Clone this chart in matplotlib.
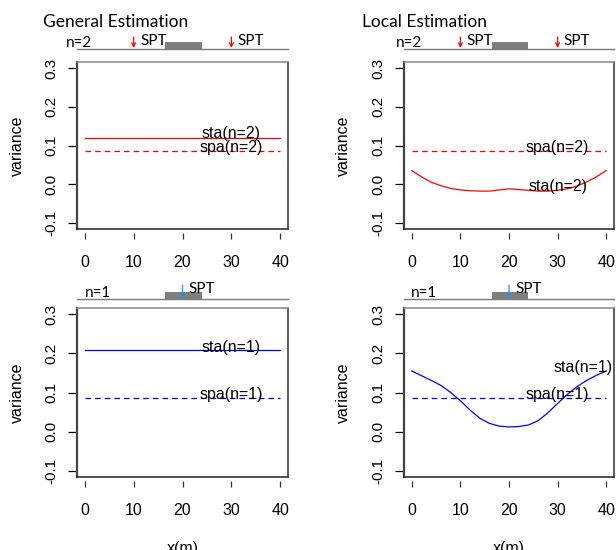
import matplotlib
matplotlib.use("Agg")
import matplotlib.pyplot as plt
from matplotlib.patches import Rectangle
from matplotlib.lines import Line2D
from matplotlib.transforms import blended_transform_factory

# ---------------- data ----------------
xticks = [0, 10, 20, 30, 40]
yticks = [-0.1, 0.0, 0.1, 0.2, 0.3]
ytick_labels = ["-0.1", "0.0", "0.1", "0.2", "0.3"]

x_flat = [0, 40]
sta_n2_general = [0.12, 0.12]
spa_n2_general = [0.085, 0.085]
sta_n1_general = [0.209, 0.209]
spa_n1_general = [0.085, 0.085]

x_local = [0, 2, 4, 6, 8, 10, 12, 14, 16, 18, 20, 22, 24, 26, 28, 30, 32, 34, 36, 38, 40]
sta_n2_local = [0.035, 0.019, 0.005, -0.004, -0.011, -0.015, -0.017, -0.018, -0.018, -0.015,
                -0.012, -0.014, -0.016, -0.018, -0.018, -0.016, -0.012, -0.005, 0.006, 0.019, 0.035]
spa_n2_local = [0.085] * len(x_local)
sta_n1_local = [0.155, 0.143, 0.131, 0.118, 0.100, 0.079, 0.055, 0.034, 0.021, 0.014,
                0.012, 0.013, 0.017, 0.028, 0.048, 0.072, 0.095, 0.115, 0.131, 0.144, 0.155]
spa_n1_local = [0.085] * len(x_local)

spt_n2 = [10, 30]
spt_n1 = [20]
block = (16.5, 24.0)

titles = ["General Estimation", "Local Estimation"]

# ---------------- layout ----------------
W, H = 616, 550
fig = plt.figure(figsize=(W / 100, H / 100), dpi=100)

AXFONT = "Liberation Sans"
CALFONT = "Lato"

boxes = {  # left, right, top, bottom in pixels
    (0, 0): (77, 288, 62, 229),
    (0, 1): (404, 614, 62, 229),
    (1, 0): (77, 288, 308, 477),
    (1, 1): (404, 614, 308, 477),
}


def make_ax(r, c):
    l, rr, t, b = boxes[(r, c)]
    ax = fig.add_axes([l / W, 1 - b / H, (rr - l) / W, (b - t) / H])
    ax.set_xlim(-1.6, 41.6)
    ax.set_ylim(-0.116, 0.316)
    for s in ax.spines.values():
        s.set_visible(False)
    ax.spines["bottom"].set_position(("outward", 3))
    ax.set_xticks(xticks)
    ax.set_xticklabels([str(v) for v in xticks], fontfamily=AXFONT, fontsize=11.5)
    ax.set_yticks(yticks)
    ax.set_yticklabels(ytick_labels, rotation=90, va="center", fontfamily=AXFONT, fontsize=11)
    ax.tick_params(axis="x", direction="out", length=4.5, width=0.9, pad=11, color="#333333")
    ax.tick_params(axis="y", direction="out", length=6.5, width=0.9, pad=7, color="black")
    # box
    ax.add_line(Line2D([0, 0], [0, 1], transform=ax.transAxes, color="#444444", lw=1.6, clip_on=False))
    ax.add_line(Line2D([0, 1], [0, 0], transform=ax.transAxes, color="#333333", lw=1.2, clip_on=False))
    ax.add_line(Line2D([1, 1], [0, 1], transform=ax.transAxes, color="#333333", lw=1.1, clip_on=False))
    ax.add_line(Line2D([0, 1], [1, 1], transform=ax.transAxes, color="#888888", lw=1.1, clip_on=False))
    ax.set_ylabel("variance", fontfamily=AXFONT, fontsize=11.5)
    ax.yaxis.label.set_va("center")
    lx = 17 if c == 0 else 343
    ax.yaxis.set_label_coords((lx - l) / (rr - l), 0.5)
    ax.patch.set_alpha(0)
    return ax


def strip(ax, r, c, spts, arrow_color, nlabel, nlabel_x):
    l, rr, t, b = boxes[(r, c)]
    trans = blended_transform_factory(ax.transData, fig.transFigure)
    if r == 0:
        line_y, rect_top, arr_top, arr_bot, txt_base, n_base = 49, 42, 37, 48, 45, 47
    else:
        line_y, rect_top, arr_top, arr_bot, txt_base, n_base = 299, 292, 285, 298, 293, 297
    fig.add_artist(Line2D([l / W, rr / W], [1 - line_y / H, 1 - line_y / H],
                          transform=fig.transFigure, color="#7a7a7a", lw=1.0))
    ax.add_patch(Rectangle((block[0], 1 - line_y / H), block[1] - block[0], (line_y - rect_top) / H,
                           transform=trans, facecolor="#7f7f7f", edgecolor="none", clip_on=False))
    for sx in spts:
        ax.annotate("", xy=(sx, 1 - arr_bot / H), xytext=(sx, 1 - arr_top / H),
                    xycoords=trans, textcoords=trans, annotation_clip=False,
                    arrowprops=dict(arrowstyle="->", color=arrow_color, lw=0.9,
                                    shrinkA=0, shrinkB=0, mutation_scale=7))
        ax.text(sx + 1.3, 1 - txt_base / H, "SPT", transform=trans, ha="left", va="baseline",
                fontfamily=CALFONT, fontsize=11, clip_on=False)
    ax.text(nlabel_x, 1 - n_base / H, nlabel, transform=trans, ha="center", va="baseline",
            fontfamily=CALFONT, fontsize=11, clip_on=False)


panels = [
    ((0, 0), x_flat, sta_n2_general, spa_n2_general, "red", "n=2", spt_n2, "red",
     ("sta(n=2)", 30, 0.130), ("spa(n=2)", 30, 0.096), -1.2),
    ((0, 1), x_local, sta_n2_local, spa_n2_local, "red", "n=2", spt_n2, "red",
     ("sta(n=2)", 30, -0.005), ("spa(n=2)", 30, 0.096), -0.6),
    ((1, 0), x_flat, sta_n1_general, spa_n1_general, "blue", "n=1", spt_n1, "#1E90FF",
     ("sta(n=1)", 30, 0.214), ("spa(n=1)", 30, 0.096), 2.7),
    ((1, 1), x_local, sta_n1_local, spa_n1_local, "blue", "n=1", spt_n1, "#1E90FF",
     ("sta(n=1)", 35.2, 0.165), ("spa(n=1)", 30, 0.096), 2.5),
]

for (rc, xs, sta, spa, col, nlab, spts, acol, sta_lab, spa_lab, nx) in panels:
    r, c = rc
    ax = make_ax(r, c)
    ax.plot(xs, sta, color=col, lw=0.9)
    ax.plot(xs, spa, color=col, lw=0.9, linestyle=(0, (4.5, 3.2)))
    for lab, lx, ly in (sta_lab, spa_lab):
        ax.text(lx, ly, lab, ha="center", va="center", fontfamily=AXFONT, fontsize=11.5)
    strip(ax, r, c, spts, acol, nlab, nx)

# titles
fig.text(43 / W, 1 - 27 / H, titles[0], ha="left", va="baseline", fontfamily=CALFONT, fontsize=12.5)
fig.text(362 / W, 1 - 27 / H, titles[1], ha="left", va="baseline", fontfamily=CALFONT, fontsize=12.5)

# x labels
for cx in [(77 + 288) / 2, (404 + 614) / 2]:
    fig.text(cx / W, 1 - 549 / H, "x(m)", ha="center", va="center", fontfamily=AXFONT, fontsize=11.5)

fig.savefig("out.png", dpi=100)
